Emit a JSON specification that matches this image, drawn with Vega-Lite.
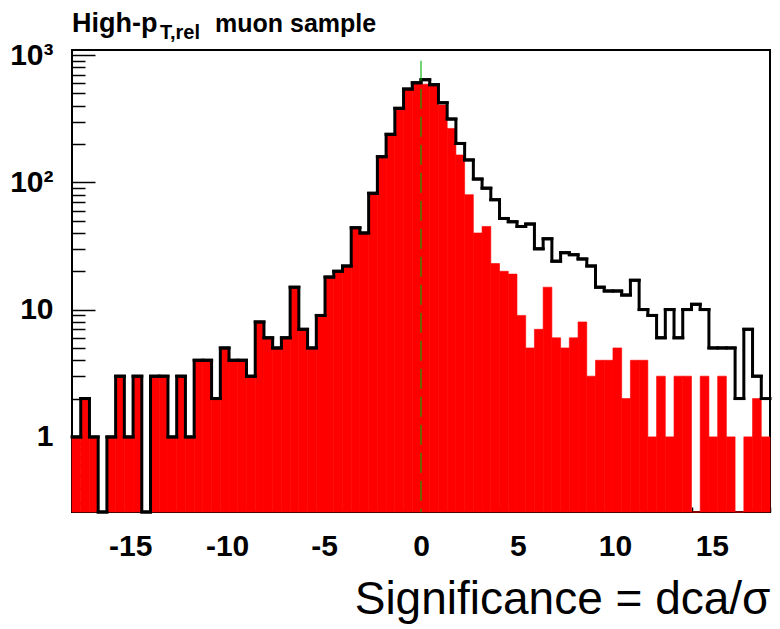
{
  "$schema": "https://vega.github.io/schema/vega-lite/v6.json",
  "width": 698,
  "height": 462,
  "autosize": {"type": "none"},
  "padding": {"left": 72, "top": 50, "right": 10, "bottom": 117},
  "background": "white",
  "config": {
    "view": {"stroke": "#000", "strokeWidth": 2},
    "font": "Liberation Sans",
    "axis": {"grid": false}
  },
  "datasets": {
    "h": [
      {"lo": -18, "hi": -17.55, "all": 1, "sel": 1},
      {"lo": -17.55, "hi": -17.1, "all": 2, "sel": 2},
      {"lo": -17.1, "hi": -16.65, "all": 1, "sel": 1},
      {"lo": -16.65, "hi": -16.2, "all": 0, "sel": 0},
      {"lo": -16.2, "hi": -15.75, "all": 1, "sel": 1},
      {"lo": -15.75, "hi": -15.3, "all": 3, "sel": 3},
      {"lo": -15.3, "hi": -14.85, "all": 1, "sel": 1},
      {"lo": -14.85, "hi": -14.4, "all": 3, "sel": 3},
      {"lo": -14.4, "hi": -13.95, "all": 0, "sel": 0},
      {"lo": -13.95, "hi": -13.5, "all": 3, "sel": 3},
      {"lo": -13.5, "hi": -13.05, "all": 3, "sel": 3},
      {"lo": -13.05, "hi": -12.6, "all": 1, "sel": 1},
      {"lo": -12.6, "hi": -12.15, "all": 3, "sel": 3},
      {"lo": -12.15, "hi": -11.7, "all": 1, "sel": 1},
      {"lo": -11.7, "hi": -11.25, "all": 4, "sel": 4},
      {"lo": -11.25, "hi": -10.8, "all": 4, "sel": 4},
      {"lo": -10.8, "hi": -10.35, "all": 2, "sel": 2},
      {"lo": -10.35, "hi": -9.9, "all": 5, "sel": 5},
      {"lo": -9.9, "hi": -9.45, "all": 4, "sel": 4},
      {"lo": -9.45, "hi": -9, "all": 4, "sel": 4},
      {"lo": -9, "hi": -8.55, "all": 3, "sel": 3},
      {"lo": -8.55, "hi": -8.1, "all": 8, "sel": 8},
      {"lo": -8.1, "hi": -7.65, "all": 6, "sel": 6},
      {"lo": -7.65, "hi": -7.2, "all": 5, "sel": 5},
      {"lo": -7.2, "hi": -6.75, "all": 6, "sel": 6},
      {"lo": -6.75, "hi": -6.3, "all": 15, "sel": 15},
      {"lo": -6.3, "hi": -5.85, "all": 7, "sel": 7},
      {"lo": -5.85, "hi": -5.4, "all": 5, "sel": 5},
      {"lo": -5.4, "hi": -4.95, "all": 9, "sel": 9},
      {"lo": -4.95, "hi": -4.5, "all": 18, "sel": 18},
      {"lo": -4.5, "hi": -4.05, "all": 20, "sel": 20},
      {"lo": -4.05, "hi": -3.6, "all": 22, "sel": 22},
      {"lo": -3.6, "hi": -3.15, "all": 44, "sel": 44},
      {"lo": -3.15, "hi": -2.7, "all": 40, "sel": 40},
      {"lo": -2.7, "hi": -2.25, "all": 82, "sel": 82},
      {"lo": -2.25, "hi": -1.8, "all": 159, "sel": 159},
      {"lo": -1.8, "hi": -1.35, "all": 238, "sel": 238},
      {"lo": -1.35, "hi": -0.9, "all": 381, "sel": 381},
      {"lo": -0.9, "hi": -0.45, "all": 540, "sel": 540},
      {"lo": -0.45, "hi": 0, "all": 605, "sel": 605},
      {"lo": 0, "hi": 0.45, "all": 640, "sel": 590},
      {"lo": 0.45, "hi": 0.9, "all": 585, "sel": 575},
      {"lo": 0.9, "hi": 1.35, "all": 422, "sel": 405},
      {"lo": 1.35, "hi": 1.8, "all": 314, "sel": 265},
      {"lo": 1.8, "hi": 2.25, "all": 202, "sel": 164},
      {"lo": 2.25, "hi": 2.7, "all": 150, "sel": 80},
      {"lo": 2.7, "hi": 3.15, "all": 106, "sel": 40},
      {"lo": 3.15, "hi": 3.6, "all": 90, "sel": 45},
      {"lo": 3.6, "hi": 4.05, "all": 73, "sel": 23},
      {"lo": 4.05, "hi": 4.5, "all": 52, "sel": 20},
      {"lo": 4.5, "hi": 4.95, "all": 49, "sel": 19},
      {"lo": 4.95, "hi": 5.4, "all": 45, "sel": 9},
      {"lo": 5.4, "hi": 5.85, "all": 47, "sel": 5},
      {"lo": 5.85, "hi": 6.3, "all": 30, "sel": 7},
      {"lo": 6.3, "hi": 6.75, "all": 36, "sel": 15},
      {"lo": 6.75, "hi": 7.2, "all": 24, "sel": 6},
      {"lo": 7.2, "hi": 7.65, "all": 28, "sel": 5},
      {"lo": 7.65, "hi": 8.1, "all": 27, "sel": 6},
      {"lo": 8.1, "hi": 8.55, "all": 25, "sel": 8},
      {"lo": 8.55, "hi": 9, "all": 22, "sel": 3},
      {"lo": 9, "hi": 9.45, "all": 15, "sel": 4},
      {"lo": 9.45, "hi": 9.9, "all": 14, "sel": 4},
      {"lo": 9.9, "hi": 10.35, "all": 14, "sel": 5},
      {"lo": 10.35, "hi": 10.8, "all": 13, "sel": 2},
      {"lo": 10.8, "hi": 11.25, "all": 17, "sel": 4},
      {"lo": 11.25, "hi": 11.7, "all": 10, "sel": 4},
      {"lo": 11.7, "hi": 12.15, "all": 9, "sel": 1},
      {"lo": 12.15, "hi": 12.6, "all": 6, "sel": 3},
      {"lo": 12.6, "hi": 13.05, "all": 10, "sel": 1},
      {"lo": 13.05, "hi": 13.5, "all": 6, "sel": 3},
      {"lo": 13.5, "hi": 13.95, "all": 10, "sel": 3},
      {"lo": 13.95, "hi": 14.4, "all": 11, "sel": 0},
      {"lo": 14.4, "hi": 14.85, "all": 10, "sel": 3},
      {"lo": 14.85, "hi": 15.3, "all": 5, "sel": 1},
      {"lo": 15.3, "hi": 15.75, "all": 5, "sel": 3},
      {"lo": 15.75, "hi": 16.2, "all": 5, "sel": 1},
      {"lo": 16.2, "hi": 16.65, "all": 2, "sel": 0},
      {"lo": 16.65, "hi": 17.1, "all": 7, "sel": 1},
      {"lo": 17.1, "hi": 17.55, "all": 3, "sel": 2},
      {"lo": 17.55, "hi": 18, "all": 2, "sel": 1}
    ]
  },
  "resolve": {"axis": {"x": "independent", "y": "independent"}},
  "layer": [
    {
      "data": {"name": "h"},
      "mark": {"type": "bar", "color": "#ff0000", "stroke": "#ff0000", "strokeWidth": 0.6},
      "encoding": {
        "x": {
          "field": "lo", "type": "quantitative",
          "scale": {"domain": [-18, 18], "nice": false, "zero": false},
          "axis": {
            "orient": "bottom", "values": [-15, -10, -5, 0, 5, 10, 15],
            "labelExpr": "'' + datum.value",
            "tickSize": -9, "tickWidth": 1.5, "tickColor": "#000", "domain": false,
            "labelFont": "Liberation Sans", "labelFontWeight": "bold", "labelFontSize": 30,
            "labelColor": "#000", "labelPadding": 28, "labelFlush": false,
            "title": "Significance = dca/σ", "titleFont": "Liberation Sans",
            "titleFontWeight": "normal", "titleFontSize": 46, "titleColor": "#000",
            "titleAnchor": "end", "titlePadding": 16
          }
        },
        "x2": {"field": "hi"},
        "y": {
          "field": "sel", "type": "quantitative",
          "scale": {"type": "log", "domain": [0.257, 1095], "nice": false, "clamp": true},
          "axis": {
            "orient": "left", "values": [1, 10, 100, 1000],
            "labelExpr": "datum.value == 1000 ? '10³' : datum.value == 100 ? '10²' : datum.value == 10 ? '10' : '1'",
            "tickSize": -23, "tickWidth": 1.5, "tickColor": "#000", "domain": false,
            "labelFont": "Liberation Sans", "labelFontWeight": "bold", "labelFontSize": 30,
            "labelColor": "#000", "labelPadding": 42, "labelFlush": false, "title": null
          }
        },
        "y2": {"datum": 0.257}
      }
    },
    {
      "data": {"name": "h"},
      "mark": {"type": "line", "interpolate": "step-after", "color": "#000", "strokeWidth": 3, "strokeJoin": "miter"},
      "encoding": {
        "x": {
          "field": "lo", "type": "quantitative",
          "axis": {
            "orient": "bottom",
            "values": [-18, -17, -16, -15, -14, -13, -12, -11, -10, -9, -8, -7, -6, -5, -4, -3, -2, -1, 0, 1, 2, 3, 4, 5, 6, 7, 8, 9, 10, 11, 12, 13, 14, 15, 16, 17, 18],
            "tickSize": -5, "tickWidth": 1.5, "tickColor": "#000", "domain": false,
            "labels": false, "title": null
          }
        },
        "y": {
          "field": "all", "type": "quantitative",
          "axis": {
            "orient": "left",
            "values": [0.3, 0.4, 0.5, 0.6, 0.7, 0.8, 0.9, 2, 3, 4, 5, 6, 7, 8, 9, 20, 30, 40, 50, 60, 70, 80, 90, 200, 300, 400, 500, 600, 700, 800, 900],
            "tickSize": -13, "tickWidth": 1.5, "tickColor": "#000", "domain": false,
            "labels": false, "title": null
          }
        }
      }
    },
    {
      "data": {"name": "h"},
      "mark": {"type": "rule", "color": "#000", "strokeWidth": 3, "strokeCap": "square"},
      "encoding": {
        "x": {"field": "lo", "type": "quantitative", "axis": null},
        "x2": {"field": "hi"},
        "y": {"field": "all", "type": "quantitative", "axis": null}
      }
    },
    {
      "data": {"values": [{"x": 0}]},
      "mark": {"type": "rule", "color": "#00b000", "strokeWidth": 2, "strokeDash": [20, 8], "opacity": 0.55},
      "encoding": {
        "x": {"field": "x", "type": "quantitative", "axis": null},
        "y": {"datum": 900, "type": "quantitative", "axis": null},
        "y2": {"datum": 0.257}
      }
    },
    {
      "data": {"values": [{"t": "High-p"}]},
      "mark": {"type": "text", "align": "left", "baseline": "alphabetic", "font": "Liberation Sans", "fontWeight": "bold", "fontSize": 27, "dy": -18, "color": "#000"},
      "encoding": {
        "x": {"datum": -18, "type": "quantitative", "axis": null},
        "y": {"datum": 1095, "type": "quantitative", "axis": null},
        "text": {"field": "t"}
      }
    },
    {
      "data": {"values": [{"t": "T,rel"}]},
      "mark": {"type": "text", "align": "left", "baseline": "alphabetic", "font": "Liberation Sans", "fontWeight": "bold", "fontSize": 20, "dx": 88, "dy": -11, "color": "#000"},
      "encoding": {
        "x": {"datum": -18, "type": "quantitative", "axis": null},
        "y": {"datum": 1095, "type": "quantitative", "axis": null},
        "text": {"field": "t"}
      }
    },
    {
      "data": {"values": [{"t": "muon sample"}]},
      "mark": {"type": "text", "align": "left", "baseline": "alphabetic", "font": "Liberation Sans", "fontWeight": "bold", "fontSize": 25, "dx": 143, "dy": -18, "color": "#000"},
      "encoding": {
        "x": {"datum": -18, "type": "quantitative", "axis": null},
        "y": {"datum": 1095, "type": "quantitative", "axis": null},
        "text": {"field": "t"}
      }
    }
  ]
}
